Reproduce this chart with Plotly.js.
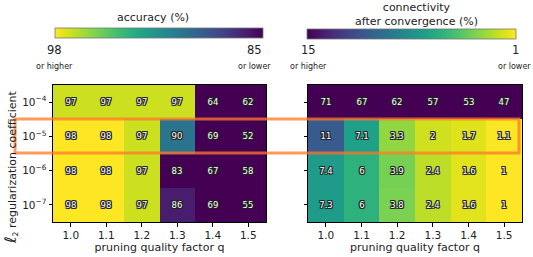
<!DOCTYPE html>
<html>
<head>
<meta charset="utf-8">
<script src="https://cdn.plot.ly/plotly-3.0.1.min.js"></script>
<style>html,body{margin:0;padding:0;background:#fff;}#chart{width:533px;height:257px;}</style>
</head>
<body>
<div id="chart"></div>
<script>
// ---- data ----
const qFactors = ["1.0", "1.1", "1.2", "1.3", "1.4", "1.5"];
const l2Labels = ["10<sup>−4</sup>", "10<sup>−5</sup>", "10<sup>−6</sup>", "10<sup>−7</sup>"];
const accuracy = [
  [97, 97, 97, 97, 64, 62],
  [98, 98, 97, 90, 69, 52],
  [98, 98, 97, 83, 67, 58],
  [98, 98, 97, 86, 69, 55]
];
const connectivity = [
  [71, 67, 62, 57, 53, 47],
  [11, 7.1, 3.3, 2, 1.7, 1.1],
  [7.4, 6, 3.9, 2.4, 1.6, 1],
  [7.3, 6, 3.8, 2.4, 1.6, 1]
];
const accRange = [98, 85];      // left end, right end of colour bar
const connRange = [15, 1];
const accEndLabels = ["98", "85"];
const connEndLabels = ["15", "1"];
const endNotes = ["or higher", "or lower"];

// ---- helpers ----
const W = 533, H = 257;
const px = p => p / W;
const py = p => 1 - p / H;
const neg = m => m.map(r => r.map(v => -v));
const txt = m => m.map(r => r.map(v => String(v)));
const font = "DejaVu Sans, sans-serif";
const shadow = "1px 0 0 #222, -1px 0 0 #222, 0 1px 0 #222, 0 -1px 0 #222, 1px 1px 0 #222, -1px -1px 0 #222, 1px -1px 0 #222, -1px 1px 0 #222";

const traces = [
  {
    type: "heatmap", x: qFactors, y: l2Labels, z: neg(accuracy),
    zmin: -accRange[0], zmax: -accRange[1],
    colorscale: "Viridis", reversescale: true,
    text: txt(accuracy), texttemplate: "%{text}",
    textfont: {family: font, size: 8.5, color: "#ffffff", shadow: shadow},
    xaxis: "x", yaxis: "y", hoverinfo: "skip",
    colorbar: {
      orientation: "h", x: px(159), xanchor: "center", y: py(28), yanchor: "top",
      len: 208, lenmode: "pixels", thickness: 10, thicknessmode: "pixels",
      xpad: 0, ypad: 0, showticklabels: false, ticks: "",
      outlinewidth: 0.8, outlinecolor: "#777"
    }
  },
  {
    type: "heatmap", x: qFactors, y: l2Labels, z: neg(connectivity),
    zmin: -connRange[0], zmax: -connRange[1],
    colorscale: "Viridis", reversescale: false,
    text: txt(connectivity), texttemplate: "%{text}",
    textfont: {family: font, size: 8.5, color: "#ffffff", shadow: shadow},
    xaxis: "x2", yaxis: "y2", hoverinfo: "skip",
    colorbar: {
      orientation: "h", x: px(411.5), xanchor: "center", y: py(29), yanchor: "top",
      len: 209, lenmode: "pixels", thickness: 10, thicknessmode: "pixels",
      xpad: 0, ypad: 0, showticklabels: false, ticks: "",
      outlinewidth: 0.8, outlinecolor: "#777"
    }
  }
];

const axisCommon = {
  showline: true, linecolor: "#000", linewidth: 1, mirror: true,
  ticks: "outside", ticklen: 3.5, tickwidth: 1, tickcolor: "#000",
  showgrid: false, zeroline: false, fixedrange: true,
  tickfont: {family: font, size: 10.5, color: "#222"}
};

const xDom1 = [px(53), px(266)], xDom2 = [px(308), px(522)];
const yDom = [py(222), py(85)];
const xTitle = {text: "pruning quality factor q", font: {family: font, size: 11, color: "#222"}, standoff: 3};

const ann = (x, y, text, size, extra) => Object.assign({
  xref: "paper", yref: "paper", x: px(x), y: py(y), text: text,
  showarrow: false, xanchor: "center", yanchor: "middle",
  font: {family: font, size: size, color: "#222"}
}, extra || {});

const layout = {
  width: W, height: H, margin: {l: 0, r: 0, t: 0, b: 0},
  paper_bgcolor: "#fff", plot_bgcolor: "#fff", showlegend: false,
  xaxis: Object.assign({}, axisCommon, {domain: xDom1, anchor: "y", type: "category", title: xTitle}),
  yaxis: Object.assign({}, axisCommon, {domain: yDom, anchor: "x", type: "category", autorange: "reversed"}),
  xaxis2: Object.assign({}, axisCommon, {domain: xDom2, anchor: "y2", type: "category", title: xTitle}),
  yaxis2: Object.assign({}, axisCommon, {domain: yDom, anchor: "x2", type: "category", autorange: "reversed", showticklabels: false}),
  annotations: [
    ann(153, 18, "accuracy (%)", 11),
    ann(416, 14, "connectivity<br>after convergence (%)", 11),
    ann(54.5, 50, accEndLabels[0], 11.5),
    ann(254, 50, accEndLabels[1], 11.5),
    ann(54.5, 67, endNotes[0], 8),
    ann(254, 67, endNotes[1], 8),
    ann(308, 50, connEndLabels[0], 11.5),
    ann(515, 50, connEndLabels[1], 11.5),
    ann(308, 67, endNotes[0], 8),
    ann(514, 67, endNotes[1], 8),
    ann(10, 168, "<span style='font-size:16px;font-style:italic'>ℓ</span><sub>2</sub> regularization coefficient", 11, {textangle: -90})
  ],
  shapes: [{
    type: "rect", xref: "paper", yref: "paper",
    x0: px(15), x1: px(519), y0: py(119), y1: py(153),
    line: {color: "rgba(255,120,40,0.75)", width: 3}, fillcolor: "rgba(0,0,0,0)"
  }]
};

Plotly.newPlot("chart", traces, layout, {staticPlot: true, displayModeBar: false});
</script>
</body>
</html>
